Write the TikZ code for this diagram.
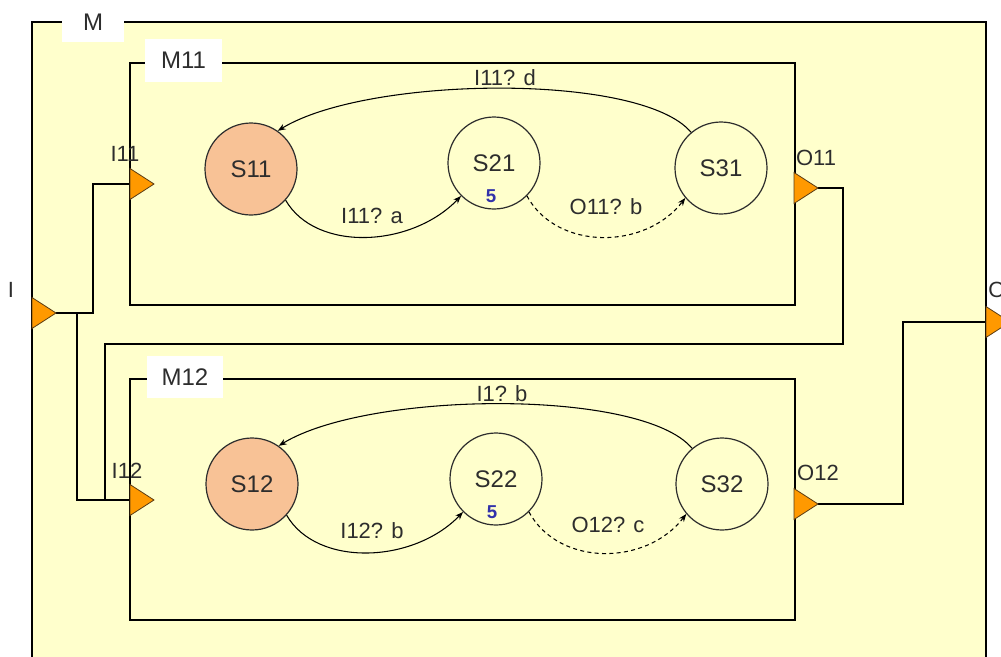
\documentclass[tikz,border=0pt]{standalone}
\usepackage{fontspec}
\setmainfont{Liberation Sans}
\usetikzlibrary{calc,arrows.meta}

\definecolor{paper}{RGB}{255,255,204}
\definecolor{portfill}{RGB}{255,153,0}
\definecolor{portedge}{RGB}{90,60,20}
\definecolor{initfill}{RGB}{248,194,150}
\definecolor{ink}{RGB}{45,45,45}
\definecolor{clockblue}{RGB}{50,50,170}

\begin{document}
\begin{tikzpicture}[x=0.75pt,y=-0.75pt,
  box/.style={draw=black,line width=1.3pt},
  wire/.style={draw=black,line width=1.2pt},
  portstyle/.style={fill=portfill,draw=portedge,line width=0.6pt,line join=miter},
  tag/.style={fill=white,inner sep=0pt,text=ink,font=\fontsize{18}{21}\selectfont},
  state/.style={circle,draw=ink,line width=0.9pt,minimum size=69pt,inner sep=0pt,
                text=ink,font=\fontsize{18}{21}\selectfont},
  clock/.style={inner sep=0pt,text=clockblue,font=\bfseries\fontsize{14}{16}\selectfont},
  plabel/.style={inner sep=0pt,text=ink,font=\fontsize{16.5}{19}\selectfont},
  elabel/.style={inner sep=0pt,text=ink,font=\fontsize{16.5}{19}\selectfont},
  trans/.style={draw=black,line width=0.8pt,-{Stealth[length=6pt,width=4.5pt]}},
  dtrans/.style={trans,dash pattern=on 3pt off 2.5pt},
]
\useasboundingbox (0,0) rectangle (1001,657);
\clip (0,0) rectangle (1001,657);

% enclosing module M and its two sub-modules
\draw[box,fill=paper] (32,22) rectangle (986,720);
\draw[box] (130,63) rectangle (795,305);
\draw[box] (130,379) rectangle (795,620);

% ports: base centre and tip
\coordinate (iP) at (32,313);   \coordinate (iPTip) at (56,313);
\coordinate (i11) at (130,184); \coordinate (i11Tip) at (154,184);
\coordinate (o11) at (794,188); \coordinate (o11Tip) at (818,188);
\coordinate (i12) at (130,500); \coordinate (i12Tip) at (154,500);
\coordinate (o12) at (794,504); \coordinate (o12Tip) at (818,504);
\coordinate (oP) at (986,322);  \coordinate (oPTip) at (1010,322);

% wiring between ports
\draw[wire] (iPTip) -- ++(37,0) |- (i11);
\draw[wire] (iPTip) -- ++(21,0) |- (i12);
\draw[wire] (o11Tip) -| ++(25,156) -| ($(i12)+(-25,0)$);
\draw[wire] (o12Tip) -- ++(85,0) |- (oP);

\foreach \p in {iP,i11,o11,i12,o12,oP}{
  \filldraw[portstyle] ($(\p)+(0,-15.5)$) -- (\p Tip) -- ($(\p)+(0,15.5)$) -- cycle;
}

% port names
\node[plabel] (iLbl)   at (11,290)  {I};
\node[plabel] (i11Lbl) at (125,154) {I11};
\node[plabel] (o11Lbl) at (816,158) {O11};
\node[plabel] (i12Lbl) at (127,471) {I12};
\node[plabel] (o12Lbl) at (818,473) {O12};
\node[plabel,anchor=west] (oLbl) at (988,290) {O};

% module names
\node[tag,minimum width=46pt,minimum height=30pt] (mTag) at (93,22) {M};
\node[tag,minimum width=58pt,minimum height=32pt] (m11Tag) at (183.5,60.5) {M11};
\node[tag,minimum width=57pt,minimum height=32pt] (m12Tag) at (185,377) {M12};

% states of M11
\node[state,fill=initfill] (s11) at (251,169) {S11};
\node[state] (s21) at (494,163) {S21};
\node[state] (s31) at (721,168) {S31};
\node[clock] (s21c) at (491,196) {5};

\draw[trans] (s11.-42) .. controls ($(s11.-42)+(30,52)$) and ($(s21.-135)+(-50,52)$) .. (s21.-135);
\draw[dtrans] (s21.-45) .. controls ($(s21.-45)+(30,55)$) and ($(s31.-140)+(-40,52)$) .. (s31.-140);
\draw[trans] (s31.130) .. controls ($(s31.130)+(-50,-60)$) and ($(s11.55)+(90,-55)$) .. (s11.55);

\node[elabel] (e1) at (372,216) {I11? a};
\node[elabel] (e2) at (606,207) {O11? b};
\node[elabel] (e3) at (505,78)  {I11? d};

% states of M12
\node[state,fill=initfill] (s12) at (252,484) {S12};
\node[state] (s22) at (496,479) {S22};
\node[state] (s32) at (722,484) {S32};
\node[clock] (s22c) at (492,512) {5};

\draw[trans] (s12.-42) .. controls ($(s12.-42)+(30,52)$) and ($(s22.-135)+(-50,52)$) .. (s22.-135);
\draw[dtrans] (s22.-45) .. controls ($(s22.-45)+(30,55)$) and ($(s32.-140)+(-40,52)$) .. (s32.-140);
\draw[trans] (s32.130) .. controls ($(s32.130)+(-50,-60)$) and ($(s12.55)+(90,-55)$) .. (s12.55);

\node[elabel] (f1) at (372,531) {I12? b};
\node[elabel] (f2) at (608,525) {O12? c};
\node[elabel] (f3) at (502,394) {I1? b};
\end{tikzpicture}
\end{document}
